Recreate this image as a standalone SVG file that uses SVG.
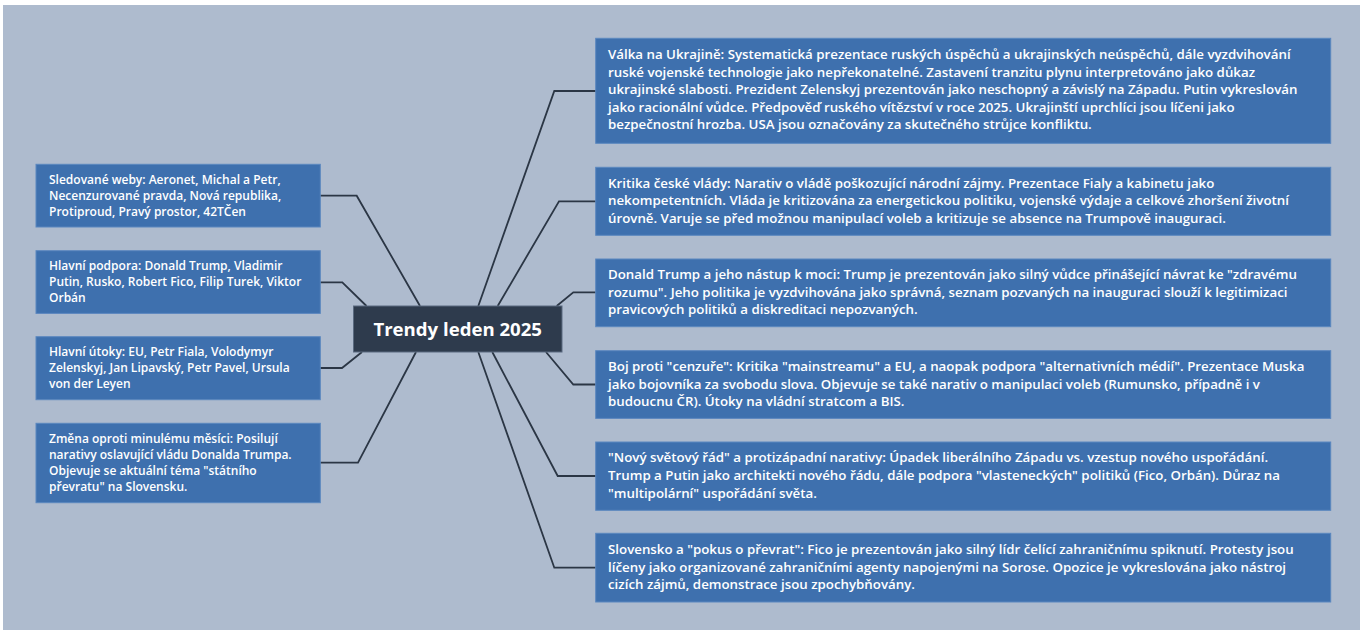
<svg xmlns="http://www.w3.org/2000/svg" width="1363" height="633" viewBox="0 0 1363 633">
<style>
.bg{fill:#aebbce}
.box{fill:#3e70ae;stroke:#5b87bf;stroke-width:1}
.t{font-family:"Open Sans","Noto Sans",sans-serif;font-weight:600;fill:#ffffff}
.r{font-size:13.3px}
.l{font-size:12px}
.c{fill:#2e3b4d;stroke:#5a6a80;stroke-width:1}
.ct{font-family:"Open Sans","Noto Sans",sans-serif;font-weight:700;font-size:18.6px;fill:#ffffff}
.ln{fill:none;stroke:#2b3645;stroke-width:1.8;stroke-linejoin:miter}
</style>
<rect x="0" y="0" width="1363" height="633" fill="#ffffff"/>
<rect class="bg" x="3" y="5" width="1357" height="625"/>
<g id="connectors">
<polyline class="ln" points="596,91 554.3,91 478.3,306"/>
<polyline class="ln" points="596,201.3 559,201.3 497.7,306"/>
<polyline class="ln" points="596,292.3 573.3,292.3 556.7,306"/>
<polyline class="ln" points="596,384.5 573.3,384.5 546,352"/>
<polyline class="ln" points="596,476 557.7,476 492.3,352"/>
<polyline class="ln" points="596,567.7 554.3,567.7 478.3,352"/>
<polyline class="ln" points="320,195.7 356.7,195.7 420,306"/>
<polyline class="ln" points="320,282.3 342.3,282.3 366.5,306"/>
<polyline class="ln" points="320,368 342,368 362,352"/>
<polyline class="ln" points="320,462.7 358,462.7 416,352"/>
</g>
<g id="center">
<rect class="c" x="353.5" y="306" width="208.5" height="46"/>
<text class="ct" x="457.7" y="336" text-anchor="middle">Trendy leden 2025</text>
</g>
<g id="left1">
<rect class="box" x="36" y="164.3" width="284.3" height="62.7"/>
<text class="t l" x="49"><tspan x="49" y="184">Sledované weby: Aeronet, Michal a Petr,</tspan><tspan x="49" y="200">Necenzurované pravda, Nová republika,</tspan><tspan x="49" y="216">Protiproud, Pravý prostor, 42TČen</tspan></text>
</g>
<g id="left2">
<rect class="box" x="36" y="250.7" width="284.3" height="62.7"/>
<text class="t l" x="49"><tspan x="49" y="270">Hlavní podpora: Donald Trump, Vladimir</tspan><tspan x="49" y="286">Putin, Rusko, Robert Fico, Filip Turek, Viktor</tspan><tspan x="49" y="302">Orbán</tspan></text>
</g>
<g id="left3">
<rect class="box" x="36" y="336.7" width="284.3" height="63"/>
<text class="t l" x="49"><tspan x="49" y="356">Hlavní útoky: EU, Petr Fiala, Volodymyr</tspan><tspan x="49" y="372">Zelenskyj, Jan Lipavský, Petr Pavel, Ursula</tspan><tspan x="49" y="388">von der Leyen</tspan></text>
</g>
<g id="left4">
<rect class="box" x="36" y="423.3" width="284.3" height="79.4"/>
<text class="t l" x="49"><tspan x="49" y="443.3">Změna oproti minulému měsíci: Posilují</tspan><tspan x="49" y="459.1">narativy oslavující vládu Donalda Trumpa.</tspan><tspan x="49" y="474.9">Objevuje se aktuální téma "státního</tspan><tspan x="49" y="490.7">převratu" na Slovensku.</tspan></text>
</g>
<g id="right1">
<rect class="box" x="595.7" y="38.3" width="735" height="105"/>
<text class="t r"><tspan x="608" y="59">Válka na Ukrajině: Systematická prezentace ruských úspěchů a ukrajinských neúspěchů, dále vyzdvihování</tspan><tspan x="608" y="76.6">ruské vojenské technologie jako nepřekonatelné. Zastavení tranzitu plynu interpretováno jako důkaz</tspan><tspan x="608" y="94.2">ukrajinské slabosti. Prezident Zelenskyj prezentován jako neschopný a závislý na Západu. Putin vykreslován</tspan><tspan x="608" y="111.8">jako racionální vůdce. Předpověď ruského vítězství v roce 2025. Ukrajinští uprchlíci jsou líčeni jako</tspan><tspan x="608" y="129.4">bezpečnostní hrozba. USA jsou označovány za skutečného strůjce konfliktu.</tspan></text>
</g>
<g id="right2">
<rect class="box" x="595.7" y="167.3" width="735" height="68"/>
<text class="t r"><tspan x="608" y="187.5">Kritika české vlády: Narativ o vládě poškozující národní zájmy. Prezentace Fialy a kabinetu jako</tspan><tspan x="608" y="205.1">nekompetentních. Vláda je kritizována za energetickou politiku, vojenské výdaje a celkové zhoršení životní</tspan><tspan x="608" y="222.7">úrovně. Varuje se před možnou manipulací voleb a kritizuje se absence na Trumpově inauguraci.</tspan></text>
</g>
<g id="right3">
<rect class="box" x="595.7" y="259" width="735" height="67.7"/>
<text class="t r"><tspan x="608" y="279.2">Donald Trump a jeho nástup k moci: Trump je prezentován jako silný vůdce přinášející návrat ke "zdravému</tspan><tspan x="608" y="296.8">rozumu". Jeho politika je vyzdvihována jako správná, seznam pozvaných na inauguraci slouží k legitimizaci</tspan><tspan x="608" y="314.4">pravicových politiků a diskreditaci nepozvaných.</tspan></text>
</g>
<g id="right4">
<rect class="box" x="595.7" y="350.7" width="735" height="67.7"/>
<text class="t r"><tspan x="608" y="370.9">Boj proti "cenzuře": Kritika "mainstreamu" a EU, a naopak podpora "alternativních médií". Prezentace Muska</tspan><tspan x="608" y="388.5">jako bojovníka za svobodu slova. Objevuje se také narativ o manipulaci voleb (Rumunsko, případně i v</tspan><tspan x="608" y="406.1">budoucnu ČR). Útoky na vládní stratcom a BIS.</tspan></text>
</g>
<g id="right5">
<rect class="box" x="595.7" y="442" width="735" height="68.3"/>
<text class="t r"><tspan x="608" y="462.4">"Nový světový řád" a protizápadní narativy: Úpadek liberálního Západu vs. vzestup nového uspořádání.</tspan><tspan x="608" y="480">Trump a Putin jako architekti nového řádu, dále podpora "vlasteneckých" politiků (Fico, Orbán). Důraz na</tspan><tspan x="608" y="497.6">"multipolární" uspořádání světa.</tspan></text>
</g>
<g id="right6">
<rect class="box" x="595.7" y="533.3" width="735" height="68.7"/>
<text class="t r"><tspan x="608" y="553.9">Slovensko a "pokus o převrat": Fico je prezentován jako silný lídr čelící zahraničnímu spiknutí. Protesty jsou</tspan><tspan x="608" y="571.5">líčeny jako organizované zahraničními agenty napojenými na Sorose. Opozice je vykreslována jako nástroj</tspan><tspan x="608" y="589.1">cizích zájmů, demonstrace jsou zpochybňovány.</tspan></text>
</g>
</svg>
